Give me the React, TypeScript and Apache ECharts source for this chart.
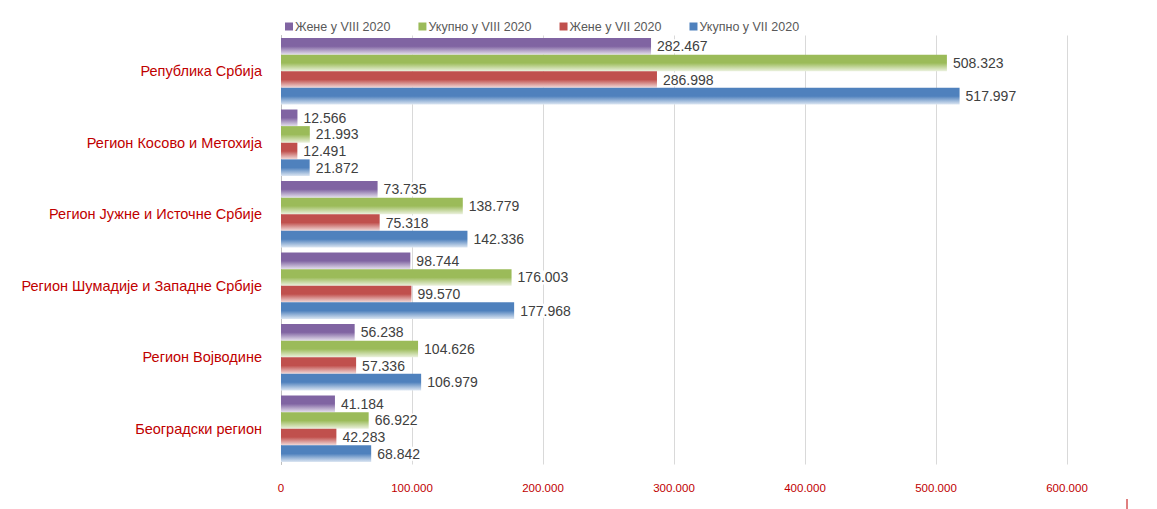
import React, { useEffect, useRef } from "react";
import * as echarts from "echarts";

const categories = [
  "Београдски регион",
  "Регион Војводине",
  "Регион Шумадије и Западне Србије",
  "Регион Јужне и Источне Србије",
  "Регион Косово и Метохија",
  "Република Србија",
];
const seriesNames = ["Жене у VIII 2020", "Укупно у VIII 2020", "Жене у VII 2020", "Укупно у VII 2020"];
const zeneVIII = [41184, 56238, 98744, 73735, 12566, 282467];
const ukupnoVIII = [66922, 104626, 176003, 138779, 21993, 508323];
const zeneVII = [42283, 57336, 99570, 75318, 12491, 286998];
const ukupnoVII = [68842, 106979, 177968, 142336, 21872, 517997];
const xTicks = { min: 0, max: 600000, interval: 100000 };

const FONT = "'Liberation Sans Narrow', 'Arial Narrow', 'Liberation Sans', sans-serif";

const fmt = (v: number) => String(v).replace(/\B(?=(\d{3})+(?!\d))/g, ".");

function grad(c: string, light: string) {
  return new echarts.graphic.LinearGradient(0, 0, 0, 1, [
    { offset: 0, color: c },
    { offset: 0.5, color: c },
    { offset: 1, color: light },
  ]);
}

export default function App() {
  const ref = useRef<HTMLDivElement>(null);
  useEffect(() => {
    const chart = echarts.init(ref.current!, null, { renderer: "svg" });
    const mk = (name: string, data: number[], c: string, light: string) => ({
      name,
      type: "bar",
      data,
      barGap: "0%",
      barCategoryGap: "7%",
      itemStyle: { color: grad(c, light) },
      label: {
        show: true,
        position: "right",
        distance: 4,
        color: "#404040",
        fontSize: 14,
        fontFamily: FONT,
        backgroundColor: "#fff",
        padding: [0, 2],
        formatter: (p: any) => fmt(p.value),
      },
    });
    chart.setOption({
      animation: false,
      textStyle: { fontFamily: FONT },
      legend: {
        data: [
          { name: seriesNames[0], itemStyle: { color: "#8064a2" } },
          { name: seriesNames[1], itemStyle: { color: "#9bbb59" } },
          { name: seriesNames[2], itemStyle: { color: "#c0504d" } },
          { name: seriesNames[3], itemStyle: { color: "#4f81bd" } },
        ],
        top: 15,
        left: 280,
        itemWidth: 8,
        itemHeight: 8,
        itemGap: 28,
        icon: "rect",
        textStyle: { color: "#595959", fontSize: 12.5, fontFamily: FONT, padding: [0, 0, 0, -3] },
      },
      grid: { left: 281, right: 90, top: 35.5, bottom: 44.5, containLabel: false },
      xAxis: {
        type: "value",
        min: xTicks.min,
        max: xTicks.max,
        interval: xTicks.interval,
        axisLine: { show: false },
        axisTick: { show: false },
        splitLine: { lineStyle: { color: "#d9d9d9" } },
        axisLabel: {
          color: "#c00000",
          fontSize: 11.5,
          fontFamily: FONT,
          margin: 17,
          formatter: (v: number) => fmt(v),
        },
      },
      yAxis: {
        type: "category",
        data: categories,
        axisLine: { show: true, lineStyle: { color: "#bfbfbf" } },
        axisTick: { show: false },
        axisLabel: { color: "#c00000", fontSize: 14.5, fontFamily: FONT, margin: 19 },
      },
      series: [
        mk(seriesNames[0], zeneVIII, "#8064a2", "#e4dfec"),
        mk(seriesNames[1], ukupnoVIII, "#9bbb59", "#ebf1de"),
        mk(seriesNames[2], zeneVII, "#c0504d", "#f2dcdb"),
        mk(seriesNames[3], ukupnoVII, "#4f81bd", "#dce6f2"),
      ],
      graphic: [
        {
          type: "line",
          shape: { x1: 1127, y1: 499, x2: 1127, y2: 509 },
          style: { stroke: "#c00000", lineWidth: 1 },
        },
      ],
    });
    return () => chart.dispose();
  }, []);
  return <div ref={ref} style={{ width: 1157, height: 509, position: "absolute", left: 0, top: 0 }} />;
}
